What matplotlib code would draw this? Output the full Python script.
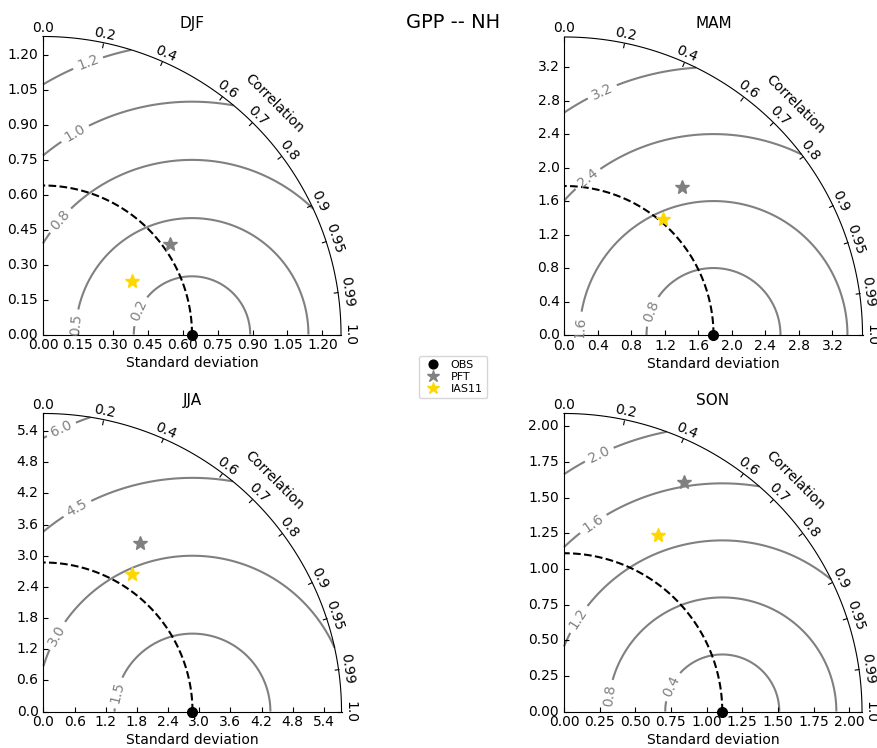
import numpy as np
import matplotlib
matplotlib.use("Agg")
import matplotlib.pyplot as plt
from matplotlib.projections import PolarAxes
import mpl_toolkits.axisartist.floating_axes as FA
import mpl_toolkits.axisartist.grid_finder as GF

# ---------------- data ----------------
seasons = ["DJF", "MAM", "JJA", "SON"]
model_names = ["OBS", "PFT", "IAS11"]
obs_std = [0.64, 1.78, 2.87, 1.11]
std_max = [1.28, 3.56, 5.74, 2.09]
pft_std = [0.669, 2.258, 3.73, 1.814]
pft_corr = [0.816, 0.620, 0.497, 0.463]
ias_std = [0.444, 1.816, 3.15, 1.40]
ias_corr = [0.858, 0.650, 0.540, 0.469]
rms_levels = [
    [0.25, 0.5, 0.75, 1.0, 1.25],
    [0.8, 1.6, 2.4, 3.2],
    [1.5, 3.0, 4.5, 6.0],
    [0.4, 0.8, 1.2, 1.6, 2.0],
]
std_ticks = [
    [0.0, 0.15, 0.30, 0.45, 0.60, 0.75, 0.90, 1.05, 1.20],
    [0.0, 0.4, 0.8, 1.2, 1.6, 2.0, 2.4, 2.8, 3.2],
    [0.0, 0.6, 1.2, 1.8, 2.4, 3.0, 3.6, 4.2, 4.8, 5.4],
    [0.0, 0.25, 0.50, 0.75, 1.00, 1.25, 1.50, 1.75, 2.00],
]
std_ticklabels = [
    ["0.00", "0.15", "0.30", "0.45", "0.60", "0.75", "0.90", "1.05", "1.20"],
    ["0.0", "0.4", "0.8", "1.2", "1.6", "2.0", "2.4", "2.8", "3.2"],
    ["0.0", "0.6", "1.2", "1.8", "2.4", "3.0", "3.6", "4.2", "4.8", "5.4"],
    ["0.00", "0.25", "0.50", "0.75", "1.00", "1.25", "1.50", "1.75", "2.00"],
]
corr_ticks = [0.0, 0.2, 0.4, 0.6, 0.7, 0.8, 0.9, 0.95, 0.99, 1.0]
corr_ticklabels = ["0.0", "0.2", "0.4", "0.6", "0.7", "0.8", "0.9", "0.95", "0.99", "1.0"]
main_title = "GPP -- NH"

# ---------------- layout / style ----------------
W, H = 878, 748
# panel centres (pixels) and size
centres = [(192, 185.5), (713.5, 186), (192.5, 562.5), (713, 562.5)]
PW, PH = 306, 304
rects = [[(cx - PW / 2) / W, 1 - (cy + PH / 2) / H, PW / W, PH / H] for cx, cy in centres]
# approximate cartesian positions for contour labels
label_xy = [
    [(0.404, 0.105), (0.14, 0.04), (0.075, 0.49), (0.137, 0.864), (0.19, 1.175)],
    [(1.02, 0.29), (0.16, 0.09), (0.26, 1.89), (0.44, 2.93)],
    [(1.39, 0.37), (0.21, 1.49), (0.65, 3.91), (0.31, 5.51)],
    [(0.739, 0.184), (0.312, 0.113), (0.087, 0.657), (0.195, 1.331), (0.235, 1.827)],
]
GREY = "0.5"
GOLD = "#FFD700"

plt.rcParams["font.family"] = ["DejaVu Sans"]
plt.rcParams["font.size"] = 10

fig = plt.figure(figsize=(W / 100, H / 100), dpi=100)
tr = PolarAxes.PolarTransform(apply_theta_transforms=False)

handles = None
for i, season in enumerate(seasons):
    tlocs = np.arccos(corr_ticks)
    gl1 = GF.FixedLocator(tlocs)
    tf1 = GF.DictFormatter(dict(zip(tlocs, corr_ticklabels)))
    gl2 = GF.FixedLocator(std_ticks[i])
    tf2 = GF.DictFormatter(dict(zip(std_ticks[i], std_ticklabels[i])))
    ghelper = FA.GridHelperCurveLinear(
        tr, extremes=(0, np.pi / 2, 0, std_max[i]),
        grid_locator1=gl1, tick_formatter1=tf1,
        grid_locator2=gl2, tick_formatter2=tf2)
    ax = FA.FloatingAxes(fig, rects[i], grid_helper=ghelper)
    fig.add_axes(ax)

    ax.axis["top"].set_axis_direction("bottom")
    ax.axis["top"].toggle(ticklabels=True, label=True)
    ax.axis["top"].major_ticklabels.set_axis_direction("top")
    ax.axis["top"].label.set_axis_direction("top")
    ax.axis["top"].label.set_text("Correlation")
    ax.axis["left"].set_axis_direction("bottom")
    ax.axis["left"].label.set_text("Standard deviation")
    ax.axis["right"].set_axis_direction("top")
    ax.axis["right"].toggle(ticklabels=True)
    ax.axis["right"].major_ticklabels.set_axis_direction("left")
    ax.axis["bottom"].set_visible(False)
    for k in ["top", "left", "right"]:
        ax.axis[k].major_ticklabels.set_fontsize(10)
        ax.axis[k].label.set_fontsize(10)
    ax.set_title(season, fontsize=11, pad=4)

    aux = ax.get_aux_axes(tr)

    # reference std arc
    t = np.linspace(0, np.pi / 2, 100)
    aux.plot(t, np.full_like(t, obs_std[i]), "k--", lw=1.5, zorder=3)

    # RMS contours
    rs, ts = np.meshgrid(np.linspace(0, std_max[i], 200), np.linspace(0, np.pi / 2, 200))
    rms = np.sqrt(obs_std[i] ** 2 + rs ** 2 - 2 * obs_std[i] * rs * np.cos(ts))
    cs = aux.contour(ts, rs, rms, rms_levels[i], colors=GREY, linewidths=1.5, zorder=2)
    fig.canvas.draw()
    manual = [(np.arctan2(y, x), np.hypot(x, y)) for x, y in label_xy[i]]
    aux.clabel(cs, inline=True, fontsize=10, fmt="%.1f", manual=manual)

    h0, = aux.plot([0], [obs_std[i]], "ko", ms=7, ls="", clip_on=False, zorder=10)
    h1, = aux.plot([np.arccos(pft_corr[i])], [pft_std[i]], "*", color=GREY,
                   mec=GREY, ms=10, ls="", zorder=9)
    h2, = aux.plot([np.arccos(ias_corr[i])], [ias_std[i]], "*", color=GOLD,
                   mec=GOLD, ms=10, ls="", zorder=9)
    if handles is None:
        handles = [h0, h1, h2]

fig.text(0.516, 0.97, main_title, ha="center", va="center", fontsize=14)
fig.legend(handles, model_names, loc="center", bbox_to_anchor=(0.516, 0.496),
           fontsize=8, numpoints=1, markerscale=0.9, handletextpad=0.8,
           borderpad=0.4, labelspacing=0.15, handlelength=1.6)

fig.savefig("out.png", dpi=100)
